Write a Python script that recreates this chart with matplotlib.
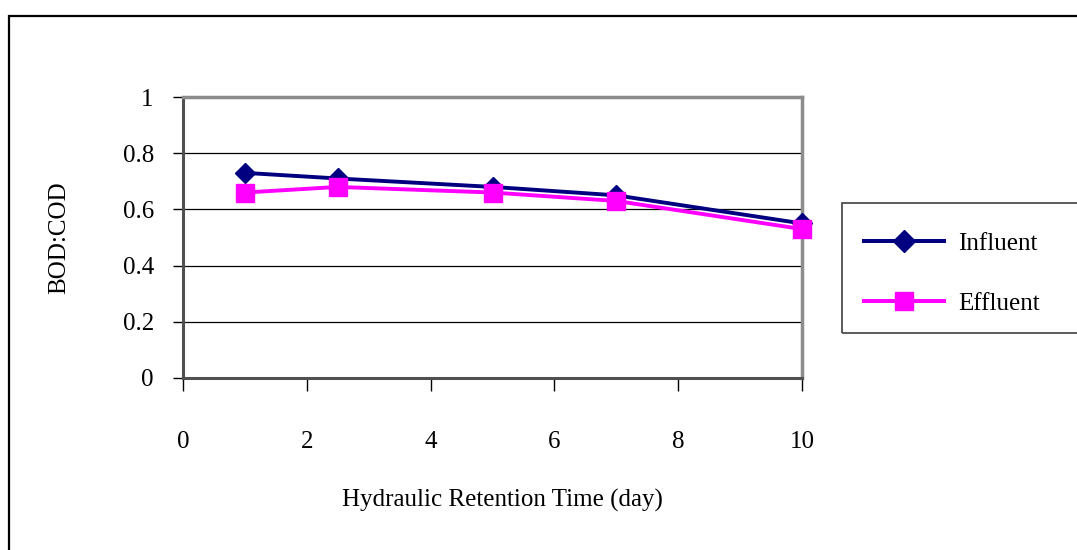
import matplotlib

matplotlib.use('Agg')

import matplotlib.pyplot as plt
from matplotlib.patches import Rectangle
from matplotlib.lines import Line2D

# data
hrt_days = [1, 2.5, 5, 7, 10]
influent = [0.73, 0.71, 0.68, 0.65, 0.55]
effluent = [0.66, 0.68, 0.66, 0.63, 0.53]

x_ticks = [0, 2, 4, 6, 8, 10]
y_ticks = [0, 0.2, 0.4, 0.6, 0.8, 1]
y_tick_labels = ['0', '0.2', '0.4', '0.6', '0.8', '1']

plt.rcParams['font.family'] = ['Liberation Serif', 'DejaVu Serif']

W, H = 1077, 550
fig = plt.figure(figsize=(W / 100, H / 100), dpi=100)

# outer chart frame (runs off the right and bottom edges)
fig.patches.append(Rectangle((9 / W, -0.05), 1.2, (550 - 16) / H + 0.05,
                             transform=fig.transFigure, fill=False,
                             edgecolor='black', linewidth=1.6))

ax = fig.add_axes([183 / W, (550 - 378) / H, (802 - 183) / W, (378 - 97) / H])

ax.plot(hrt_days, influent, color='#000080', linewidth=2.8, marker='D',
        markersize=10, label='Influent', zorder=3, clip_on=False)
ax.plot(hrt_days, effluent, color='#FF00FF', linewidth=2.8, marker='s',
        markersize=12.5, label='Effluent', zorder=4, clip_on=False)

ax.set_xlim(0, 10)
ax.set_ylim(0, 1)
ax.set_xticks(x_ticks)
ax.set_yticks(y_ticks)
ax.set_yticklabels(y_tick_labels)

for y in y_ticks[1:-1]:
    ax.axhline(y, color='black', linewidth=0.9, zorder=1)

ax.spines['top'].set_color('#8c8c8c')
ax.spines['right'].set_color('#8c8c8c')
ax.spines['top'].set_linewidth(2.5)
ax.spines['right'].set_linewidth(2.5)
ax.spines['left'].set_color('#505050')
ax.spines['bottom'].set_color('#505050')
ax.spines['left'].set_linewidth(2.2)
ax.spines['bottom'].set_linewidth(2.2)

ax.tick_params(axis='y', direction='out', length=7, width=1, pad=14, labelsize=18)
ax.tick_params(axis='x', direction='out', length=9, width=1, pad=29, labelsize=18)

ax.set_xlabel('Hydraulic Retention Time (day)', fontsize=18)
ax.set_ylabel('BOD:COD', fontsize=18)
ax.xaxis.set_label_coords((502 - 183) / 619, (378 - 489) / 281)
ax.yaxis.set_label_coords((70 - 183) / 619, (378 - 238) / 281)

# legend box, clipped at right edge like the reference
fig.patches.append(Rectangle((842 / W, (550 - 333) / H), 0.3, (333 - 203) / H,
                             transform=fig.transFigure, fill=False,
                             edgecolor='#404040', linewidth=1.2))
handles = [Line2D([], [], color='#000080', linewidth=2.9, marker='D', markersize=11),
           Line2D([], [], color='#FF00FF', linewidth=2.9, marker='s', markersize=12.5)]
fig.legend(handles, ['Influent', 'Effluent'], loc='upper left',
           bbox_to_anchor=(841 / W, (550 - 210) / H), frameon=False,
           fontsize=18, handlelength=3.2, labelspacing=1.5, handletextpad=0.6)

fig.savefig('out.png', dpi=100)
